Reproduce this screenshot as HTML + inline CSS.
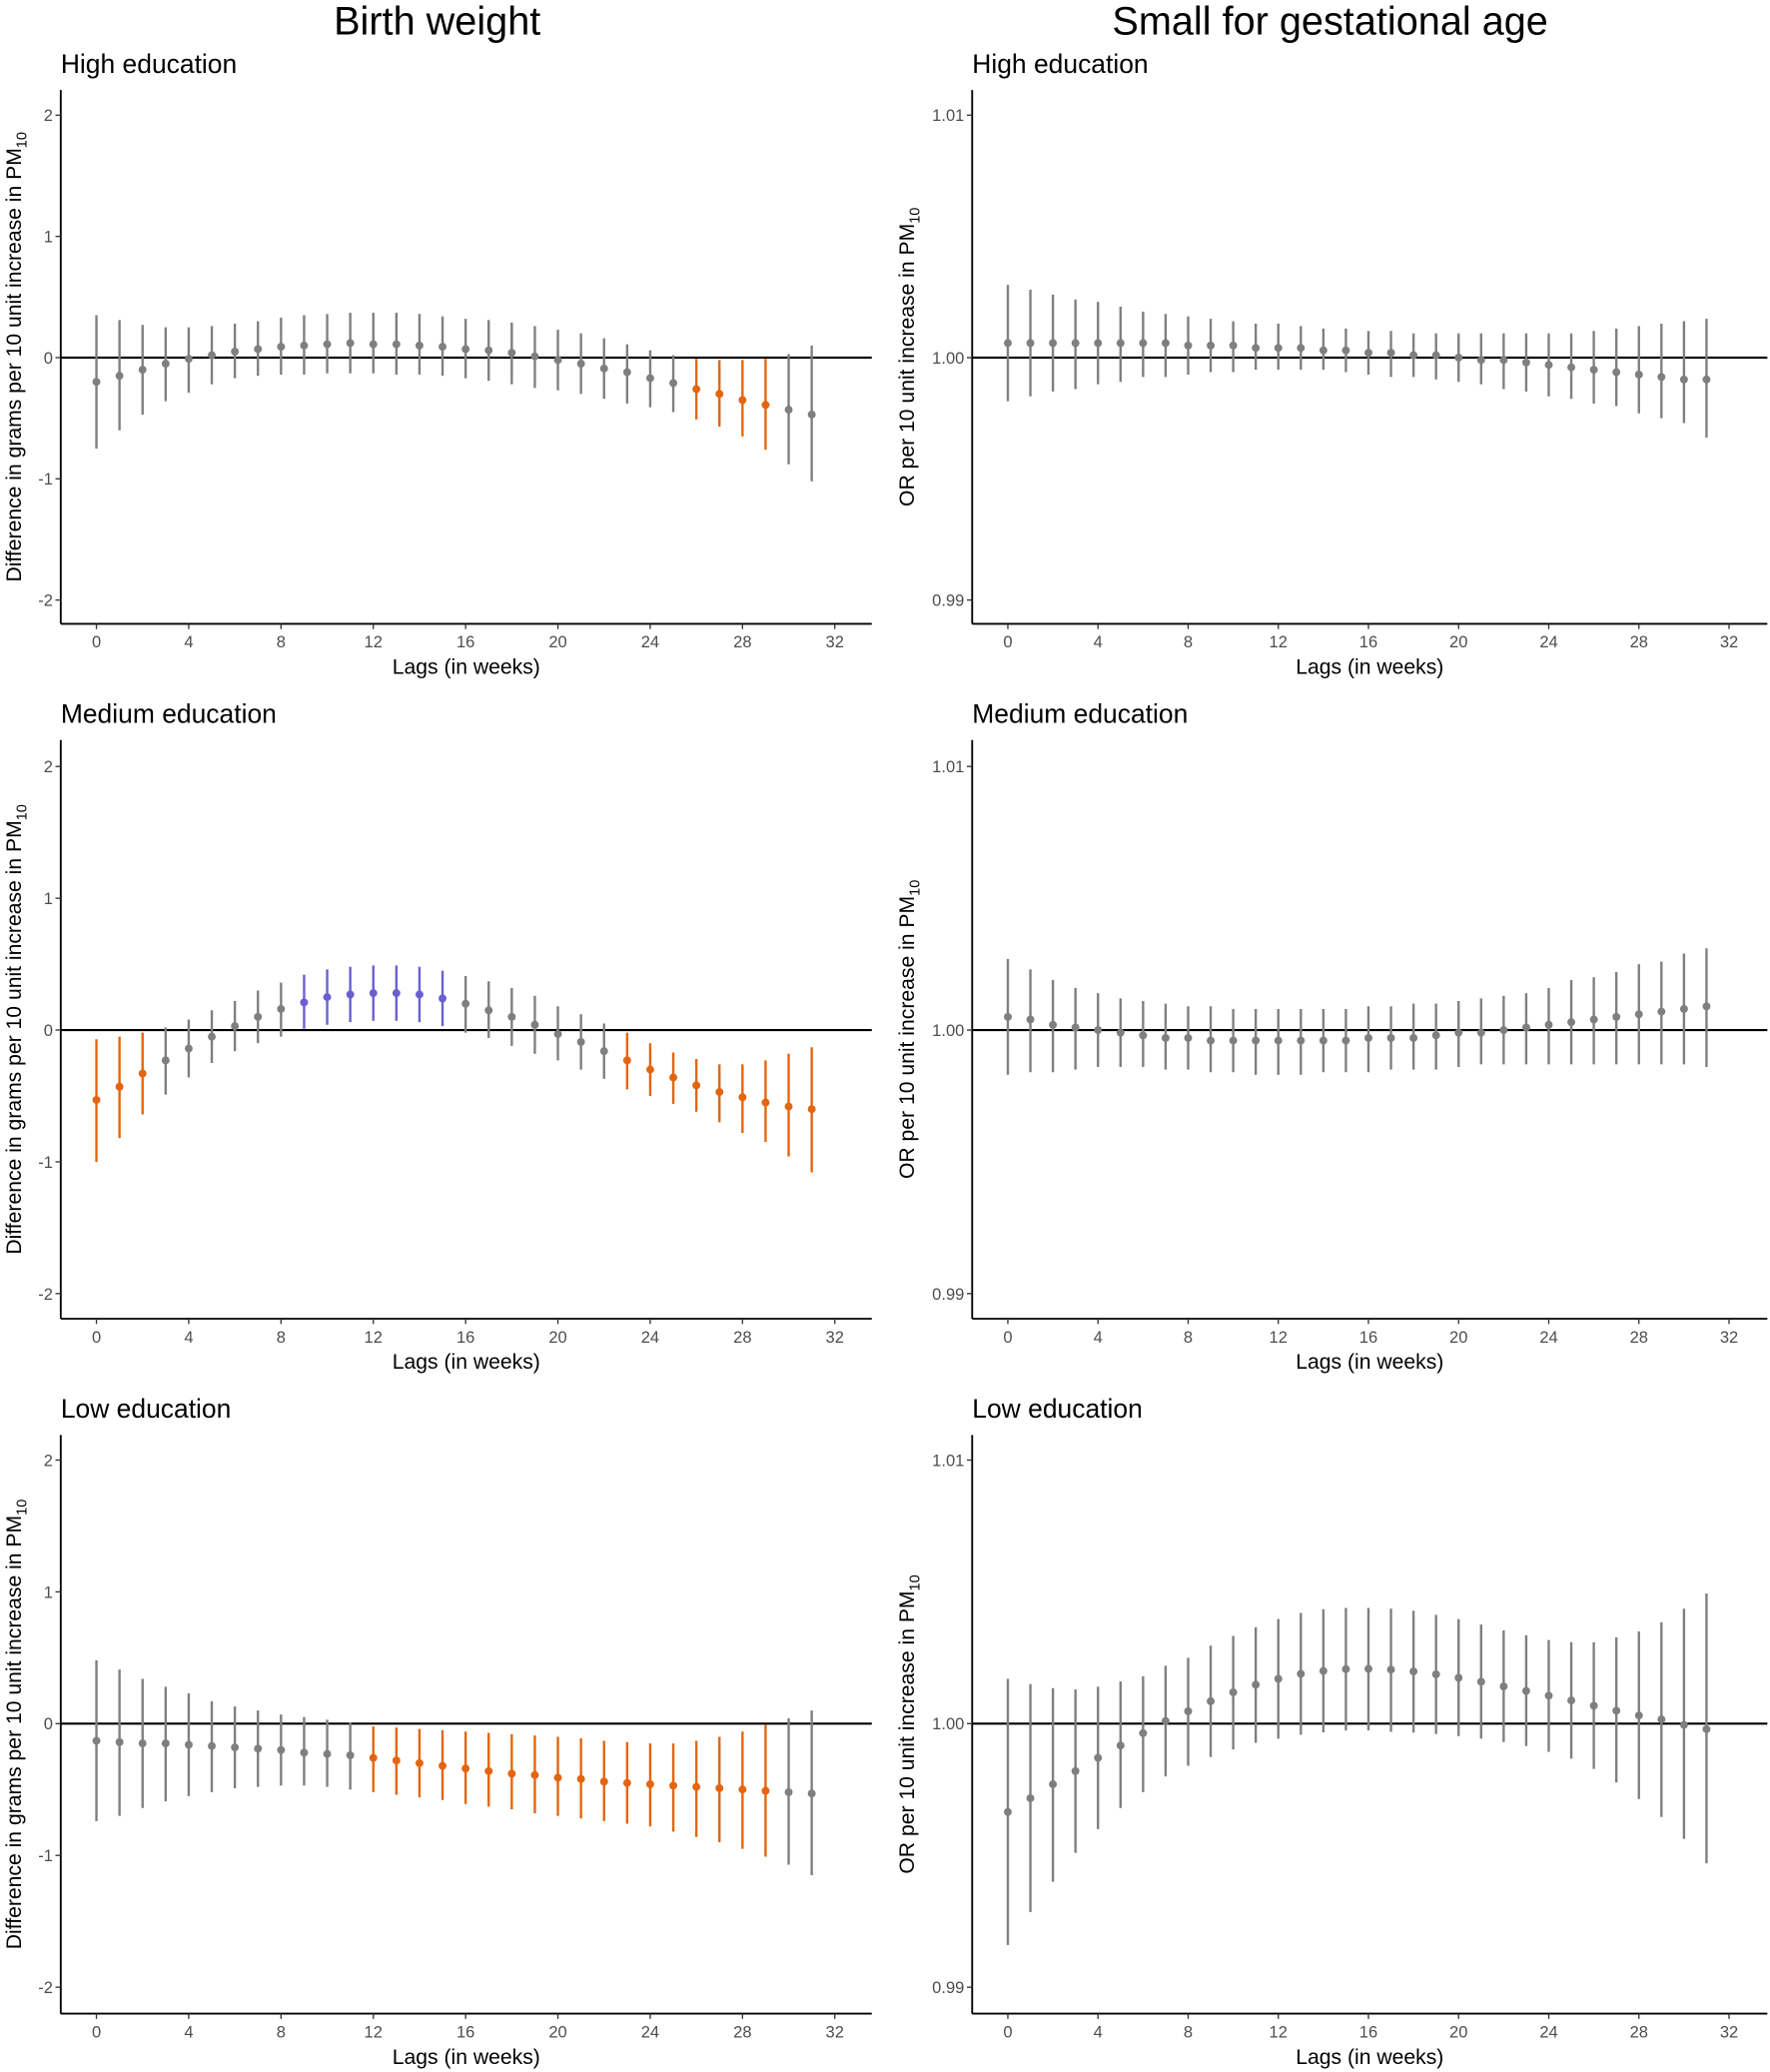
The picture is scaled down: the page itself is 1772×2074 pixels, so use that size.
<!DOCTYPE html>
<html><head><meta charset="utf-8"><style>
html,body{margin:0;padding:0;background:#fff;}
svg{display:block;font-family:"Liberation Sans",Arial,sans-serif;}
</style></head><body>
<svg id="fig" width="1772" height="2074" viewBox="0 0 1340 1568" xmlns="http://www.w3.org/2000/svg">
<text x="331" y="26" font-size="30" text-anchor="middle" fill="#000">Birth weight</text>
<text x="1007" y="26" font-size="30" text-anchor="middle" fill="#000">Small for gestational age</text>
</svg>
<script>
const lags = [0,1,2,3,4,5,6,7,8,9,10,11,12,13,14,15,16,17,18,19,20,21,22,23,24,25,26,27,28,29,30,31];
const xTicks = [0,4,8,12,16,20,24,28,32];
const bwTicks = [2,1,0,-1,-2];
const bwTickLabels = ["2","1","0","-1","-2"];
const orTicks = [1.01,1.00,0.99];
const orTickLabels = ["1.01","1.00","0.99"];

// Birth weight - High education
const bwHighEst = [-0.20,-0.15,-0.10,-0.05,-0.01,0.02,0.05,0.07,0.09,0.10,0.11,0.12,0.11,0.11,0.10,0.09,0.07,0.06,0.04,0.01,-0.02,-0.05,-0.09,-0.12,-0.17,-0.21,-0.26,-0.30,-0.35,-0.39,-0.43,-0.47];
const bwHighHi = [0.35,0.31,0.27,0.25,0.25,0.26,0.28,0.30,0.33,0.35,0.36,0.37,0.37,0.37,0.36,0.34,0.32,0.31,0.29,0.26,0.23,0.20,0.16,0.11,0.06,0.02,-0.01,-0.02,-0.02,-0.01,0.03,0.10];
const bwHighLo = [-0.75,-0.60,-0.47,-0.36,-0.29,-0.22,-0.17,-0.15,-0.14,-0.14,-0.13,-0.13,-0.13,-0.14,-0.14,-0.15,-0.17,-0.19,-0.22,-0.25,-0.27,-0.30,-0.34,-0.38,-0.41,-0.45,-0.51,-0.57,-0.65,-0.76,-0.88,-1.02];
const bwHighSig = ["n","n","n","n","n","n","n","n","n","n","n","n","n","n","n","n","n","n","n","n","n","n","n","n","n","n","neg","neg","neg","neg","n","n"];

// Birth weight - Medium education
const bwMedEst = [-0.53,-0.43,-0.33,-0.23,-0.14,-0.05,0.03,0.10,0.16,0.21,0.25,0.27,0.28,0.28,0.27,0.24,0.20,0.15,0.10,0.04,-0.03,-0.09,-0.16,-0.23,-0.30,-0.36,-0.42,-0.47,-0.51,-0.55,-0.58,-0.60];
const bwMedHi = [-0.07,-0.05,-0.02,0.02,0.08,0.15,0.22,0.30,0.36,0.42,0.46,0.48,0.49,0.49,0.48,0.45,0.41,0.37,0.32,0.26,0.18,0.12,0.05,-0.02,-0.10,-0.17,-0.22,-0.26,-0.26,-0.23,-0.18,-0.13];
const bwMedLo = [-1.00,-0.82,-0.64,-0.49,-0.36,-0.25,-0.16,-0.10,-0.05,0.01,0.04,0.06,0.07,0.07,0.06,0.03,-0.02,-0.06,-0.12,-0.18,-0.23,-0.30,-0.37,-0.45,-0.50,-0.56,-0.62,-0.70,-0.78,-0.85,-0.96,-1.08];
const bwMedSig = ["neg","neg","neg","n","n","n","n","n","n","pos","pos","pos","pos","pos","pos","pos","n","n","n","n","n","n","n","neg","neg","neg","neg","neg","neg","neg","neg","neg"];

// Birth weight - Low education
const bwLowEst = [-0.13,-0.14,-0.15,-0.15,-0.16,-0.17,-0.18,-0.19,-0.20,-0.22,-0.23,-0.24,-0.26,-0.28,-0.30,-0.32,-0.34,-0.36,-0.38,-0.39,-0.41,-0.42,-0.44,-0.45,-0.46,-0.47,-0.48,-0.49,-0.50,-0.51,-0.52,-0.53];
const bwLowHi = [0.48,0.41,0.34,0.28,0.23,0.17,0.13,0.10,0.07,0.05,0.03,0.01,-0.02,-0.03,-0.04,-0.05,-0.06,-0.07,-0.08,-0.09,-0.10,-0.11,-0.13,-0.14,-0.15,-0.15,-0.13,-0.10,-0.06,-0.01,0.04,0.10];
const bwLowLo = [-0.74,-0.70,-0.64,-0.59,-0.55,-0.52,-0.49,-0.48,-0.47,-0.47,-0.48,-0.50,-0.52,-0.54,-0.56,-0.58,-0.61,-0.63,-0.65,-0.68,-0.70,-0.72,-0.74,-0.76,-0.78,-0.82,-0.86,-0.90,-0.95,-1.01,-1.07,-1.15];
const bwLowSig = ["n","n","n","n","n","n","n","n","n","n","n","n","neg","neg","neg","neg","neg","neg","neg","neg","neg","neg","neg","neg","neg","neg","neg","neg","neg","neg","n","n"];

// SGA - High education (OR)
const sgaHighEst = [1.0006,1.0006,1.0006,1.0006,1.0006,1.0006,1.0006,1.0006,1.0005,1.0005,1.0005,1.0004,1.0004,1.0004,1.0003,1.0003,1.0002,1.0002,1.0001,1.0001,1.0000,0.9999,0.9999,0.9998,0.9997,0.9996,0.9995,0.9994,0.9993,0.9992,0.9991,0.9991];
const sgaHighHi = [1.0030,1.0028,1.0026,1.0024,1.0023,1.0021,1.0019,1.0018,1.0017,1.0016,1.0015,1.0014,1.0014,1.0013,1.0012,1.0012,1.0011,1.0011,1.0010,1.0010,1.0010,1.0010,1.0010,1.0010,1.0010,1.0010,1.0011,1.0012,1.0013,1.0014,1.0015,1.0016];
const sgaHighLo = [0.9982,0.9984,0.9986,0.9987,0.9989,0.9990,0.9992,0.9992,0.9993,0.9994,0.9994,0.9995,0.9995,0.9995,0.9995,0.9994,0.9993,0.9992,0.9992,0.9991,0.9990,0.9989,0.9987,0.9986,0.9984,0.9983,0.9981,0.9980,0.9977,0.9975,0.9973,0.9967];

// SGA - Medium education
const sgaMedEst = [1.0005,1.0004,1.0002,1.0001,1.0000,0.9999,0.9998,0.9997,0.9997,0.9996,0.9996,0.9996,0.9996,0.9996,0.9996,0.9996,0.9997,0.9997,0.9997,0.9998,0.9999,0.9999,1.0000,1.0001,1.0002,1.0003,1.0004,1.0005,1.0006,1.0007,1.0008,1.0009];
const sgaMedHi = [1.0027,1.0023,1.0019,1.0016,1.0014,1.0012,1.0011,1.0010,1.0009,1.0009,1.0008,1.0008,1.0008,1.0008,1.0008,1.0008,1.0009,1.0009,1.0010,1.0010,1.0011,1.0012,1.0013,1.0014,1.0016,1.0019,1.0020,1.0022,1.0025,1.0026,1.0029,1.0031];
const sgaMedLo = [0.9983,0.9984,0.9984,0.9985,0.9986,0.9986,0.9986,0.9985,0.9985,0.9984,0.9984,0.9983,0.9983,0.9983,0.9984,0.9984,0.9984,0.9985,0.9985,0.9985,0.9986,0.9987,0.9987,0.9987,0.9987,0.9987,0.9987,0.9987,0.9987,0.9987,0.9987,0.9986];

// SGA - Low education
const sgaLowEst = [0.99665,0.99717,0.9977,0.9982,0.9987,0.99917,0.99964,1.0001,1.00047,1.00085,1.00119,1.00148,1.0017,1.00189,1.0020,1.00207,1.00208,1.00205,1.00198,1.00187,1.00174,1.00159,1.00141,1.00124,1.00106,1.00088,1.00068,1.00049,1.00031,1.00016,0.99995,0.99979];
const sgaLowHi = [1.0017,1.0015,1.00135,1.0013,1.0014,1.0016,1.0018,1.0022,1.0025,1.00296,1.00333,1.00366,1.00397,1.0042,1.00434,1.00439,1.00439,1.00436,1.00428,1.00413,1.00397,1.00376,1.00354,1.00335,1.00317,1.00309,1.00309,1.00327,1.0035,1.00385,1.00436,1.00494];
const sgaLowLo = [0.9916,0.99285,0.9940,0.9951,0.9960,0.9968,0.9974,0.9980,0.9984,0.99873,0.99902,0.99927,0.99943,0.99958,0.99967,0.99974,0.99974,0.99969,0.99966,0.99961,0.99953,0.99943,0.9993,0.99915,0.99893,0.99867,0.99828,0.99777,0.99714,0.99646,0.99563,0.9947];

const colors = {n:"#7f7f7f", neg:"#e4650f", pos:"#6a5fd0"};
const svg = document.getElementById('fig');
const NS = "http://www.w3.org/2000/svg";
function mk(tag, attrs, parent){
  const e = document.createElementNS(NS, tag);
  for (const k in attrs) e.setAttribute(k, attrs[k]);
  (parent||svg).appendChild(e);
  return e;
}

const panels = [
  {id:"bw-high", title:"High education", est:bwHighEst, hi:bwHighHi, lo:bwHighLo, sig:bwHighSig, kind:"bw", col:0, row:0},
  {id:"bw-medium", title:"Medium education", est:bwMedEst, hi:bwMedHi, lo:bwMedLo, sig:bwMedSig, kind:"bw", col:0, row:1},
  {id:"bw-low", title:"Low education", est:bwLowEst, hi:bwLowHi, lo:bwLowLo, sig:bwLowSig, kind:"bw", col:0, row:2},
  {id:"sga-high", title:"High education", est:sgaHighEst, hi:sgaHighHi, lo:sgaHighLo, sig:null, kind:"or", col:1, row:0},
  {id:"sga-medium", title:"Medium education", est:sgaMedEst, hi:sgaMedHi, lo:sgaMedLo, sig:null, kind:"or", col:1, row:1},
  {id:"sga-low", title:"Low education", est:sgaLowEst, hi:sgaLowHi, lo:sgaLowLo, sig:null, kind:"or", col:1, row:2}
];
const cols = [{axisX:46, right:660, x0:73, x32:632, ytitleX:14},{axisX:736, right:1338, x0:763, x32:1309, ytitleX:690}];
const rows = [{top:68, bottom:472, yTop:87, yBot:454, sub:55},{top:560, bottom:998, yTop:580, yBot:979, sub:547},{top:1086, bottom:1524, yTop:1105, yBot:1504, sub:1073}];

panels.forEach(p=>{
  const c = cols[p.col], r = rows[p.row];
  const g = mk('g', {});
  
  
  const xs = v => c.x0 + (v - 0) / 32 * (c.x32 - c.x0);
  let ys;
  if (p.kind === "bw") ys = v => r.yTop + (2 - v) / 4 * (r.yBot - r.yTop);
  else ys = v => r.yTop + (1.01 - v) / 0.02 * (r.yBot - r.yTop);

  const st = mk('text', {x:c.axisX, y:r.sub, 'font-size':20, fill:'#000'}, g);
  st.textContent = p.title;
  
  

  // zero / reference line
  const ref = mk('line', {x1:c.axisX, x2:c.right, y1:ys(p.kind==="bw"?0:1), y2:ys(p.kind==="bw"?0:1), stroke:'#000', 'stroke-width':1.6}, g);
  
  

  // axes
  const ya = mk('line', {x1:c.axisX, x2:c.axisX, y1:r.top, y2:r.bottom, stroke:'#000', 'stroke-width':1.4}, g);
  
  
  const xa = mk('line', {x1:c.axisX, x2:c.right, y1:r.bottom, y2:r.bottom, stroke:'#000', 'stroke-width':1.4}, g);
  
  

  xTicks.forEach(t=>{
    const x = xs(t);
    const tk = mk('line', {x1:x, x2:x, y1:r.bottom, y2:r.bottom+4, stroke:'#333', 'stroke-width':1}, g);
    
    
    const tl = mk('text', {x:x, y:r.bottom+18, 'font-size':12.5, fill:'#4d4d4d', 'text-anchor':'middle'}, g);
    tl.textContent = String(t);
    
    
  });
  const yt = p.kind==="bw" ? bwTicks : orTicks;
  const ytl = p.kind==="bw" ? bwTickLabels : orTickLabels;
  yt.forEach((t,i)=>{
    const y = ys(t);
    const tk = mk('line', {x1:c.axisX-4, x2:c.axisX, y1:y, y2:y, stroke:'#333', 'stroke-width':1}, g);
    
    
    const tl = mk('text', {x:c.axisX-6, y:y+4.5, 'font-size':12.5, fill:'#4d4d4d', 'text-anchor':'end'}, g);
    tl.textContent = ytl[i];
    
    
  });

  const xt = mk('text', {x:(c.axisX+c.right)/2, y:r.bottom+38, 'font-size':16, fill:'#000', 'text-anchor':'middle'}, g);
  xt.textContent = "Lags (in weeks)";
  
  

  const cy = (r.top + r.bottom)/2;
  const yTitle = mk('text', {x:0, y:0, 'font-size':16, fill:'#000', 'text-anchor':'middle', transform:`translate(${c.ytitleX+2},${cy}) rotate(-90)`}, g);
  
  
  const t1 = mk('tspan', {}, yTitle);
  t1.textContent = p.kind==="bw" ? "Difference in grams per 10 unit increase in PM" : "OR per 10 unit increase in PM";
  const t2 = mk('tspan', {'font-size':11, dy:4}, yTitle);
  t2.textContent = "10";

  lags.forEach((l,i)=>{
    const col = colors[p.sig ? p.sig[i] : "n"];
    const x = xs(l);
    const ln = mk('line', {x1:x, x2:x, y1:ys(p.hi[i]), y2:ys(p.lo[i]), stroke:col, 'stroke-width':1.8}, g);
    
    
    const pt = mk('circle', {cx:x, cy:ys(p.est[i]), r:3, fill:col}, g);
    
    
  });
});
</script>
</body></html>
